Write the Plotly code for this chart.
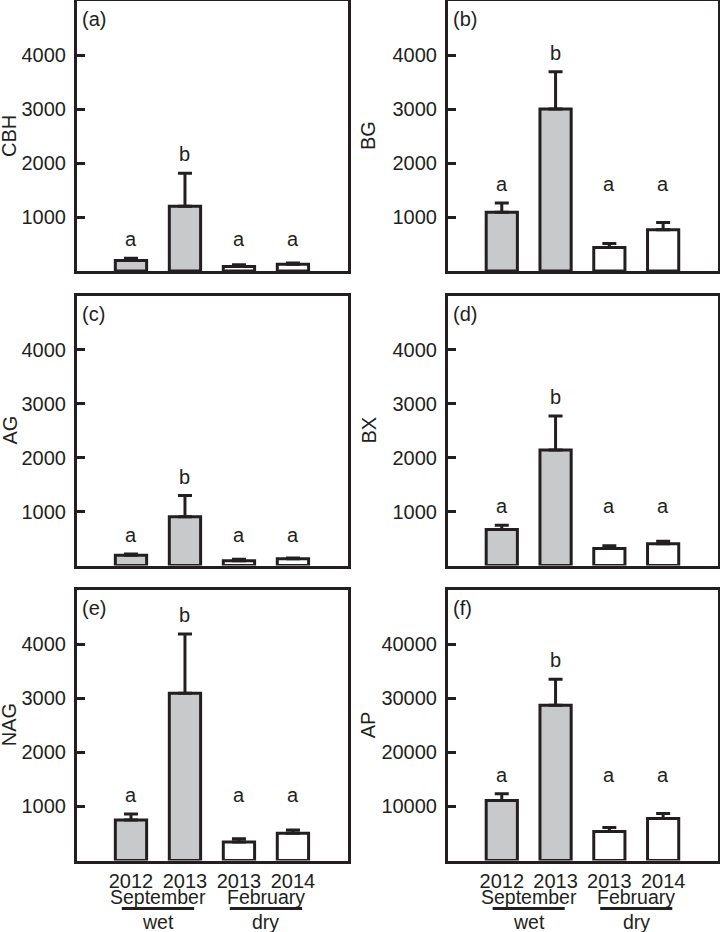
import plotly.graph_objects as go

# ---------------- data ----------------
years = ["2012", "2013", "2013", "2014"]
months = ["September", "February"]
seasons = ["wet", "dry"]
month_of_bar = [0, 0, 1, 1]

panel_tags = ["(a)", "(b)", "(c)", "(d)", "(e)", "(f)"]
enzymes = ["CBH", "BG", "AG", "BX", "NAG", "AP"]

cbh_mean = [195, 1200, 85, 125]
cbh_se = [40, 610, 30, 25]
bg_mean = [1090, 3000, 435, 765]
bg_se = [170, 690, 75, 135]
ag_mean = [190, 905, 90, 125]
ag_se = [25, 390, 25, 15]
bx_mean = [665, 2140, 315, 405]
bx_se = [80, 630, 50, 45]
nag_mean = [750, 3090, 340, 505]
nag_se = [110, 1095, 60, 60]
ap_mean = [11100, 28700, 5350, 7750]
ap_se = [1250, 4800, 750, 930]

cbh_letters = ["a", "b", "a", "a"]
bg_letters = ["a", "b", "a", "a"]
ag_letters = ["a", "b", "a", "a"]
bx_letters = ["a", "b", "a", "a"]
nag_letters = ["a", "b", "a", "a"]
ap_letters = ["a", "b", "a", "a"]

enzyme_ticks = [1000, 2000, 3000, 4000]
enzyme_max = 5000
ap_ticks = [10000, 20000, 30000, 40000]
ap_max = 50000

means = [cbh_mean, bg_mean, ag_mean, bx_mean, nag_mean, ap_mean]
ses = [cbh_se, bg_se, ag_se, bx_se, nag_se, ap_se]
letters = [cbh_letters, bg_letters, ag_letters, bx_letters, nag_letters, ap_letters]
ticks = [enzyme_ticks] * 5 + [ap_ticks]
ymax = [enzyme_max] * 5 + [ap_max]

# ---------------- style / layout ----------------
W, H = 720, 932
INK = "#231f20"
FILL = ["#c8c9ca", "#ffffff"]
FONT = "Liberation Sans, Arial, Helvetica, sans-serif"

col_px = [(77, 348), (448, 718)]
row_px = [(1, 271), (295.5, 565.5), (590, 860.5)]


def xdom(c):
    return [col_px[c][0] / W, col_px[c][1] / W]


def ydom(r):
    return [1 - row_px[r][1] / H, 1 - row_px[r][0] / H]


fig = go.Figure()
layout = dict(
    width=W, height=H,
    margin=dict(l=0, r=0, t=0, b=0),
    paper_bgcolor="white", plot_bgcolor="white",
    showlegend=False,
    font=dict(family=FONT, size=20, color=INK),
)
annotations = []
shapes = []

xs = list(range(len(years)))
for k in range(6):
    r, c = divmod(k, 2)
    n = k + 1
    xa = "x" if n == 1 else f"x{n}"
    ya = "y" if n == 1 else f"y{n}"
    xkey = "xaxis" if n == 1 else f"xaxis{n}"
    ykey = "yaxis" if n == 1 else f"yaxis{n}"

    fig.add_trace(go.Bar(
        x=xs, y=means[k], width=0.58,
        xaxis=xa, yaxis=ya,
        marker=dict(color=[FILL[m] for m in month_of_bar],
                    line=dict(color=INK, width=3)),
        error_y=dict(type="data", array=ses[k], arrayminus=[0] * 4,
                     symmetric=False, color=INK, thickness=3, width=7),
        hoverinfo="skip",
    ))

    bottom = (r == 2)
    layout[xkey] = dict(
        domain=xdom(c), anchor=ya, range=[-1.0, 4.02],
        showline=True, linewidth=3, linecolor=INK, mirror=True,
        showgrid=False, zeroline=False, ticks="",
        tickvals=xs, ticktext=years, showticklabels=bottom,
        tickfont=dict(size=20, color=INK), ticklabelstandoff=0,
        automargin=False, fixedrange=True,
    )
    layout[ykey] = dict(
        domain=ydom(r), anchor=xa, range=[0, ymax[k]],
        showline=True, linewidth=3, linecolor=INK, mirror=True,
        showgrid=False, zeroline=False,
        ticks="inside", ticklen=8, tickwidth=2.5, tickcolor=INK,
        tickvals=ticks[k], ticktext=[str(v) for v in ticks[k]],
        tickfont=dict(size=20, color=INK),
        ticklabelstandoff=4, automargin=False, fixedrange=True,
    )

    # panel tag
    annotations.append(dict(
        text=panel_tags[k], xref=f"{xa} domain", yref=f"{ya} domain",
        x=0, y=1, xanchor="left", yanchor="top", xshift=3, yshift=-5,
        showarrow=False, font=dict(size=20, color=INK)))

    # y title
    tx = 9 if c == 0 else 368
    annotations.append(dict(
        text=enzymes[k], xref="paper", yref="paper",
        x=tx / W, y=sum(ydom(r)) / 2, textangle=-90,
        xanchor="center", yanchor="middle", showarrow=False,
        font=dict(size=20, color=INK)))

    # significance letters
    tops = [m + s for m, s in zip(means[k], ses[k])]
    for i, L in enumerate(letters[k]):
        ly = max(t for t, L2 in zip(tops, letters[k]) if L2 == L)
        annotations.append(dict(
            text=L, xref=xa, yref=ya, x=xs[i], y=ly,
            xanchor="center", yanchor="middle", yshift=19,
            showarrow=False, font=dict(size=20, color=INK)))

    # month / season labels under bottom panels
    if bottom:
        for g, (mon, sea) in enumerate(zip(months, seasons)):
            idx = [i for i, m in enumerate(month_of_bar) if m == g]
            cx = sum(idx) / len(idx)
            annotations.append(dict(
                text=mon, xref=xa, yref="paper", x=cx, y=1 - 896.5 / H,
                xanchor="center", yanchor="middle", showarrow=False,
                font=dict(size=19.5, color=INK)))
            annotations.append(dict(
                text=sea, xref=xa, yref="paper", x=cx, y=1 - 921.5 / H,
                xanchor="center", yanchor="middle", showarrow=False,
                font=dict(size=19.5, color=INK)))
            shapes.append(dict(
                type="line", xref=xa, yref="paper",
                x0=cx - 0.67, x1=cx + 0.67,
                y0=1 - 908.5 / H, y1=1 - 908.5 / H,
                line=dict(color=INK, width=3)))

layout["annotations"] = annotations
layout["shapes"] = shapes
fig.update_layout(**layout)
fig.write_html(
    "out.html",
    config={"displayModeBar": False},
    post_script="document.body.style.margin='0';document.body.style.padding='0';",
)
